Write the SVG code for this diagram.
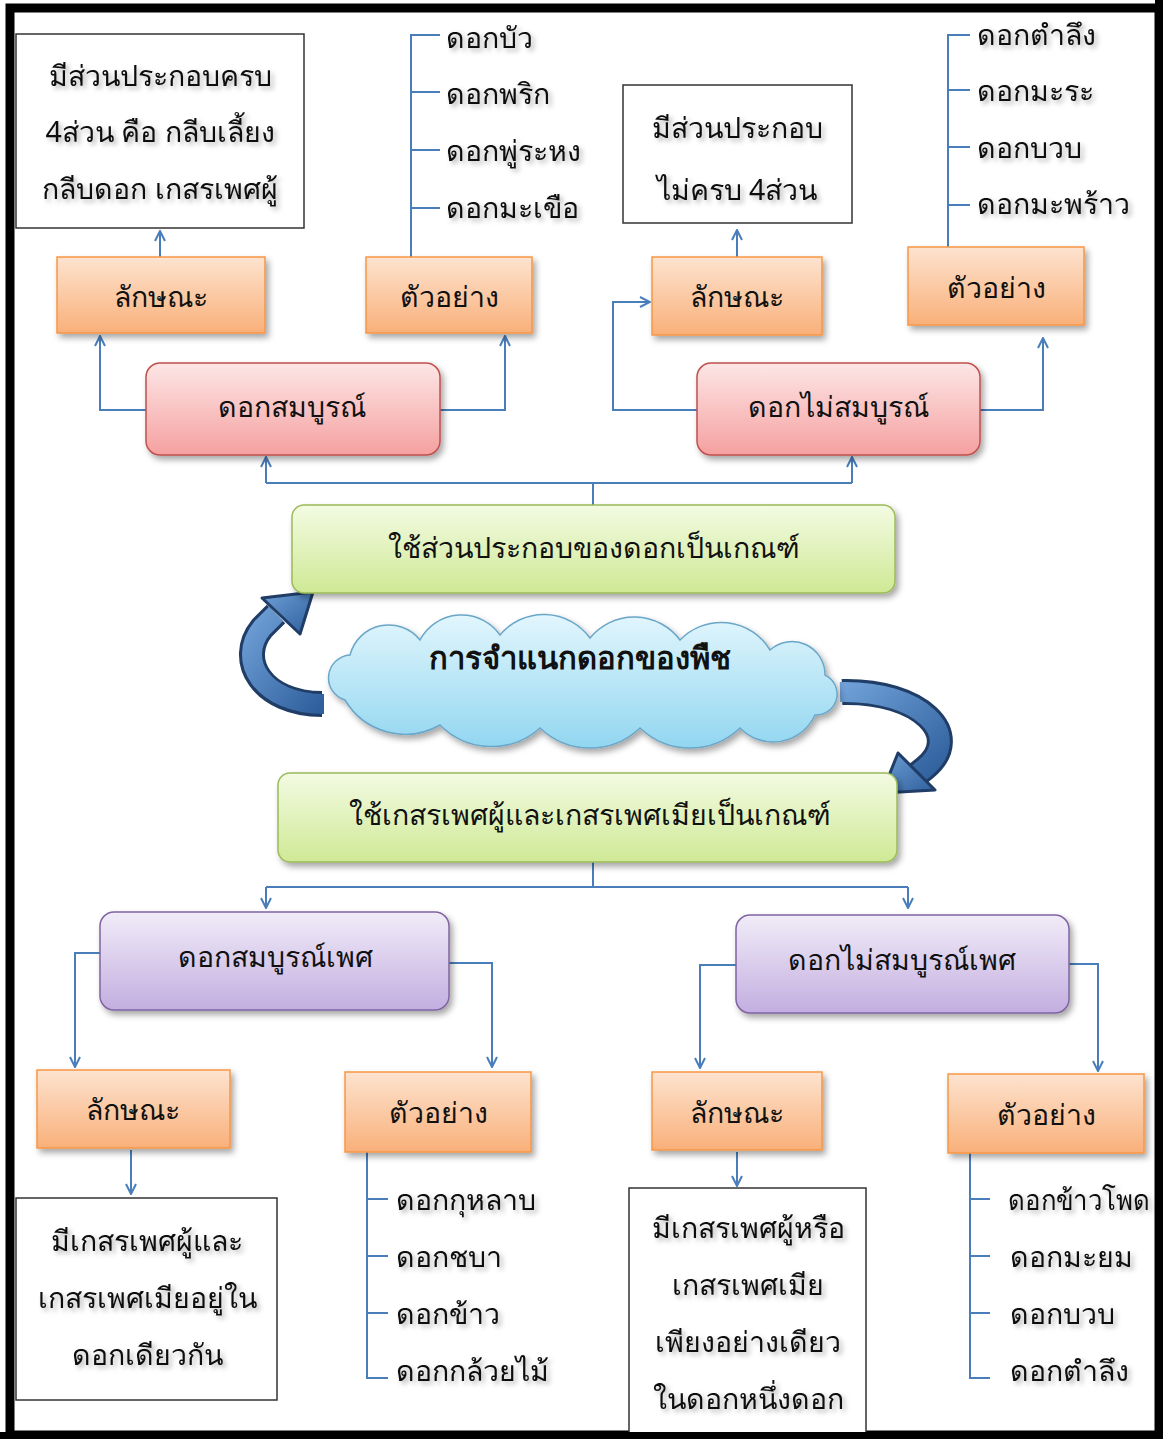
<svg xmlns="http://www.w3.org/2000/svg" width="1163" height="1439" viewBox="0 0 1163 1439">
<defs>
<style>
text{font-family:"Noto Sans","DejaVu Sans","Liberation Sans",sans-serif;fill:#111;}
.t{font-size:28.5px;text-anchor:middle;dominant-baseline:central;}
.l{font-size:28.5px;dominant-baseline:central;}
.b{font-size:31px;font-weight:bold;text-anchor:middle;dominant-baseline:central;}
.c{fill:none;stroke:#4a7ebb;stroke-width:2;}
.box{fill:#fff;stroke:#333;stroke-width:1.5;}
.or{fill:url(#gO);stroke:#f79646;stroke-width:1.5;}
.pk{fill:url(#gP);stroke:#c0504d;stroke-width:1.5;}
.gr{fill:url(#gG);stroke:#9bbb59;stroke-width:1.5;}
.pu{fill:url(#gU);stroke:#8064a2;stroke-width:1.5;}
</style>
<linearGradient id="gO" x1="0" y1="0" x2="0" y2="1"><stop offset="0" stop-color="#fde3cf"/><stop offset="1" stop-color="#f9b07a"/></linearGradient>
<linearGradient id="gP" x1="0" y1="0" x2="0" y2="1"><stop offset="0" stop-color="#fde6e6"/><stop offset="1" stop-color="#f5a0a0"/></linearGradient>
<linearGradient id="gG" x1="0" y1="0" x2="0" y2="1"><stop offset="0" stop-color="#f3fbe3"/><stop offset="1" stop-color="#cfe995"/></linearGradient>
<linearGradient id="gU" x1="0" y1="0" x2="0" y2="1"><stop offset="0" stop-color="#f1ecf8"/><stop offset="1" stop-color="#c3aee0"/></linearGradient>
<linearGradient id="gC" x1="0" y1="0" x2="0" y2="1"><stop offset="0" stop-color="#e2f6fd"/><stop offset="1" stop-color="#92d6f0"/></linearGradient>
<linearGradient id="gA" x1="0" y1="0" x2="1" y2="1"><stop offset="0" stop-color="#6f9fd6"/><stop offset="1" stop-color="#2f5f9c"/></linearGradient>
<filter id="sh" x="-10%" y="-10%" width="130%" height="140%"><feDropShadow dx="3" dy="4" stdDeviation="3" flood-color="#000" flood-opacity="0.35"/></filter>
<filter id="ts" x="-10%" y="-30%" width="130%" height="170%"><feDropShadow dx="3" dy="3" stdDeviation="2.5" flood-color="#000" flood-opacity="0.3"/></filter>
<marker id="ah" viewBox="0 0 12 12" refX="11" refY="6" markerWidth="12" markerHeight="12" markerUnits="userSpaceOnUse" orient="auto"><path d="M1,1 L11,6 L1,11" fill="none" stroke="#4a7ebb" stroke-width="2"/></marker>
</defs>
<rect x="0" y="0" width="1163" height="1439" fill="#fff"/>
<rect x="10" y="8" width="1149" height="1427" fill="none" stroke="#000" stroke-width="9"/>

<g id="connectors">
<path class="c" d="M160,257 V231" marker-end="url(#ah)"/>
<path class="c" d="M411,257 V35 H440 M411,92 H440 M411,150 H440 M411,208 H440"/>
<path class="c" d="M146,410 H100 V336" marker-end="url(#ah)"/>
<path class="c" d="M440,410 H505 V336" marker-end="url(#ah)"/>
<path class="c" d="M697,410 H613 V302 H650" marker-end="url(#ah)"/>
<path class="c" d="M980,410 H1043 V338" marker-end="url(#ah)"/>
<path class="c" d="M737,257 V230" marker-end="url(#ah)"/>
<path class="c" d="M948,247 V35 H970 M948,90 H970 M948,147 H970 M948,205 H970"/>
<path class="c" d="M593,505 V483"/>
<path class="c" d="M266,483 H852"/>
<path class="c" d="M266,483 V457" marker-end="url(#ah)"/>
<path class="c" d="M852,483 V457" marker-end="url(#ah)"/>
<path class="c" d="M593,862 V887"/>
<path class="c" d="M266,887 H908"/>
<path class="c" d="M266,887 V908" marker-end="url(#ah)"/>
<path class="c" d="M908,887 V908" marker-end="url(#ah)"/>
<path class="c" d="M100,953 H75 V1067" marker-end="url(#ah)"/>
<path class="c" d="M449,963 H492 V1067" marker-end="url(#ah)"/>
<path class="c" d="M736,965 H700 V1068" marker-end="url(#ah)"/>
<path class="c" d="M1069,964 H1098 V1071" marker-end="url(#ah)"/>
<path class="c" d="M131,1150 V1194" marker-end="url(#ah)"/>
<path class="c" d="M367,1152 V1378 H388 M367,1199 H388 M367,1256 H388 M367,1313 H388"/>
<path class="c" d="M737,1152 V1186" marker-end="url(#ah)"/>
<path class="c" d="M970,1153 V1378 H990 M970,1199 H990 M970,1256 H990 M970,1313 H990"/>
<g id="curve-left">
<path d="M322,704 C262,704 236,660 262,628 L276,614" fill="none" stroke="#1f3d66" stroke-width="26"/>
<path d="M324,704 C262,704 236,660 262,628 L276,614" fill="none" stroke="url(#gA)" stroke-width="20"/>
<polygon points="313,592 300,634 262,598" fill="url(#gA)" stroke="#1f3d66" stroke-width="3" stroke-linejoin="round"/>
</g>
<g id="curve-right">
<path d="M842,692 C920,690 965,735 925,768 L915,776" fill="none" stroke="#1f3d66" stroke-width="26"/>
<path d="M840,692 C920,690 965,735 925,768 L915,776" fill="none" stroke="url(#gA)" stroke-width="20"/>
<polygon points="882,793 898,753 935,790" fill="url(#gA)" stroke="#1f3d66" stroke-width="3" stroke-linejoin="round"/>
</g>
</g>

<g id="n-desc1"><rect class="box" x="16" y="34" width="288" height="194"/>
<g filter="url(#ts)"><text class="t" x="160" y="75">มีส่วนประกอบครบ</text><text class="t" x="160" y="131">4ส่วน คือ กลีบเลี้ยง</text><text class="t" x="160" y="188">กลีบดอก เกสรเพศผู้</text></g></g>
<g id="n-ex1" filter="url(#ts)"><text class="l" x="446" y="37">ดอกบัว</text><text class="l" x="446" y="93">ดอกพริก</text><text class="l" x="446" y="150">ดอกพู่ระหง</text><text class="l" x="446" y="207">ดอกมะเขือ</text></g>
<g id="n-lak1"><rect class="or" x="57" y="257" width="208" height="76" filter="url(#sh)"/><text class="t" x="161" y="296">ลักษณะ</text></g>
<g id="n-tua1"><rect class="or" x="366" y="257" width="166" height="76" filter="url(#sh)"/><text class="t" x="449" y="296">ตัวอย่าง</text></g>
<g id="n-desc2"><rect class="box" x="623" y="85" width="229" height="138"/>
<g filter="url(#ts)"><text class="t" x="737" y="127">มีส่วนประกอบ</text><text class="t" x="737" y="189">ไม่ครบ 4ส่วน</text></g></g>
<g id="n-ex2" filter="url(#ts)"><text class="l" x="977" y="34">ดอกตำลึง</text><text class="l" x="977" y="90">ดอกมะระ</text><text class="l" x="977" y="147">ดอกบวบ</text><text class="l" x="977" y="203">ดอกมะพร้าว</text></g>
<g id="n-lak2"><rect class="or" x="652" y="257" width="170" height="78" filter="url(#sh)"/><text class="t" x="737" y="296">ลักษณะ</text></g>
<g id="n-tua2"><rect class="or" x="908" y="247" width="176" height="78" filter="url(#sh)"/><text class="t" x="996" y="287">ตัวอย่าง</text></g>
<g id="n-pink1"><rect class="pk" x="146" y="363" width="294" height="92" rx="14" filter="url(#sh)"/><text class="t" x="292" y="406">ดอกสมบูรณ์</text></g>
<g id="n-pink2"><rect class="pk" x="697" y="363" width="283" height="92" rx="14" filter="url(#sh)"/><text class="t" x="838" y="406">ดอกไม่สมบูรณ์</text></g>
<g id="n-green1"><rect class="gr" x="292" y="505" width="603" height="88" rx="12" filter="url(#sh)"/><text class="t" x="594" y="547">ใช้ส่วนประกอบของดอกเป็นเกณฑ์</text></g>
<g id="n-cloud"><path d="M345,700 A23,23 0 0 1 350,655 A40,40 0 0 1 420,640 A47,47 0 0 1 500,635 A57,57 0 0 1 590,638 A57,57 0 0 1 680,640 A57,57 0 0 1 770,650 A33,33 0 0 1 825,675 A21,21 0 0 1 815,715 A46,46 0 0 1 740,728 A72.5,72.5 0 0 1 640,728 A72.5,72.5 0 0 1 540,728 A72.5,72.5 0 0 1 440,725 A70,70 0 0 1 345,700 Z" fill="url(#gC)" stroke="#6aa6c8" stroke-width="1.5" filter="url(#sh)"/><text class="b" x="580" y="657">การจำแนกดอกของพืช</text></g>
<g id="n-green2"><rect class="gr" x="278" y="773" width="619" height="89" rx="12" filter="url(#sh)"/><text class="t" x="590" y="814">ใช้เกสรเพศผู้และเกสรเพศเมียเป็นเกณฑ์</text></g>
<g id="n-pur1"><rect class="pu" x="100" y="912" width="349" height="98" rx="14" filter="url(#sh)"/><text class="t" x="275" y="956">ดอกสมบูรณ์เพศ</text></g>
<g id="n-pur2"><rect class="pu" x="736" y="915" width="333" height="98" rx="14" filter="url(#sh)"/><text class="t" x="902" y="959">ดอกไม่สมบูรณ์เพศ</text></g>
<g id="n-lak3"><rect class="or" x="37" y="1070" width="193" height="78" filter="url(#sh)"/><text class="t" x="133" y="1109">ลักษณะ</text></g>
<g id="n-tua3"><rect class="or" x="345" y="1072" width="186" height="80" filter="url(#sh)"/><text class="t" x="438" y="1112">ตัวอย่าง</text></g>
<g id="n-lak4"><rect class="or" x="652" y="1072" width="170" height="78" filter="url(#sh)"/><text class="t" x="737" y="1112">ลักษณะ</text></g>
<g id="n-tua4"><rect class="or" x="948" y="1074" width="196" height="79" filter="url(#sh)"/><text class="t" x="1046" y="1114">ตัวอย่าง</text></g>
<g id="n-desc3"><rect class="box" x="16" y="1198" width="261" height="202"/>
<g filter="url(#ts)"><text class="t" x="147" y="1240">มีเกสรเพศผู้และ</text><text class="t" x="147" y="1297">เกสรเพศเมียอยู่ใน</text><text class="t" x="147" y="1354">ดอกเดียวกัน</text></g></g>
<g id="n-ex3" filter="url(#ts)"><text class="l" x="396" y="1199">ดอกกุหลาบ</text><text class="l" x="396" y="1256">ดอกชบา</text><text class="l" x="396" y="1313">ดอกข้าว</text><text class="l" x="396" y="1370">ดอกกล้วยไม้</text></g>
<g id="n-desc4"><rect class="box" x="629" y="1188" width="237" height="260"/>
<g filter="url(#ts)"><text class="t" x="748" y="1227">มีเกสรเพศผู้หรือ</text><text class="t" x="748" y="1284">เกสรเพศเมีย</text><text class="t" x="748" y="1341">เพียงอย่างเดียว</text><text class="t" x="748" y="1398">ในดอกหนึ่งดอก</text></g></g>
<g id="n-ex4" filter="url(#ts)"><text class="l" x="1008" y="1199" textLength="142" lengthAdjust="spacingAndGlyphs">ดอกข้าวโพด</text><text class="l" x="1010" y="1256">ดอกมะยม</text><text class="l" x="1010" y="1313">ดอกบวบ</text><text class="l" x="1010" y="1370">ดอกตำลึง</text></g>
<rect x="1155" y="0" width="8" height="1439" fill="#000"/>
<rect x="0" y="1432" width="1163" height="7" fill="#000"/>
</svg>
